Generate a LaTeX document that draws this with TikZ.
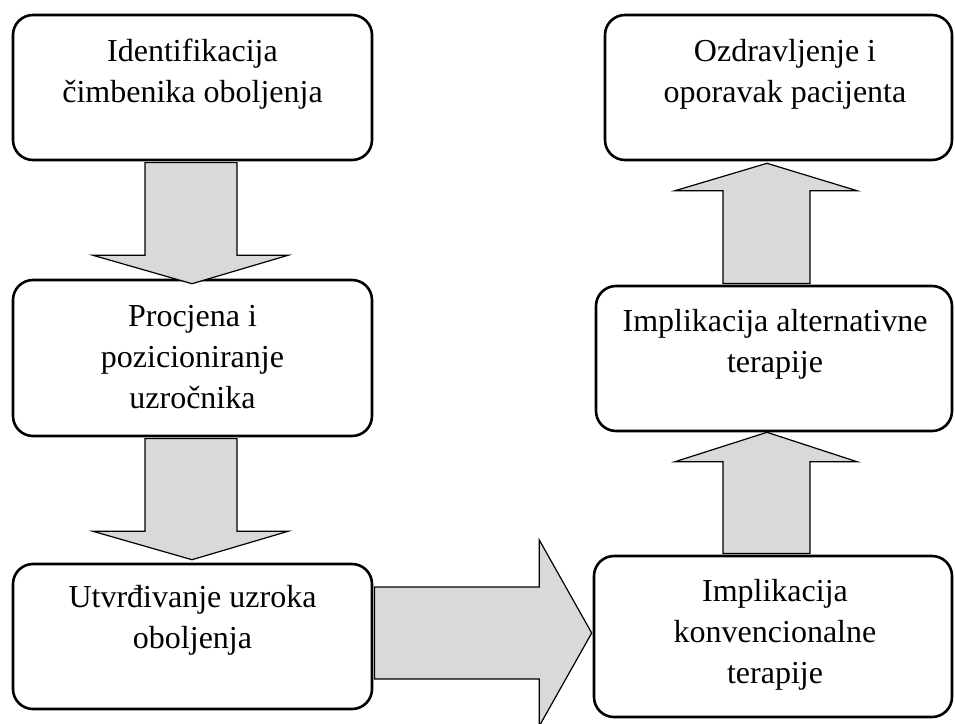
\documentclass[tikz,border=0pt]{standalone}
\usepackage{fontspec}
\setmainfont{Liberation Serif}
\usetikzlibrary{calc}
\definecolor{arrowgray}{HTML}{D9D9D9}
\begin{document}
\begin{tikzpicture}[x=1pt,y=-1pt,
  box/.style={draw=black, line width=2.6pt, rounded corners=20pt, inner sep=0pt},
  txt/.style={anchor=north, align=center, inner sep=0pt, font=\fontsize{32}{41}\selectfont},
  blockarrow/.style={draw=black, line width=1.2pt, fill=arrowgray, line join=miter}]
\useasboundingbox (0,0) rectangle (955,723);

% boxes
\node[box, minimum width=359pt, minimum height=145pt] (b1) at (192.5,87.5) {};
\node[box, minimum width=359pt, minimum height=156pt] (b2) at (192.5,358) {};
\node[box, minimum width=359pt, minimum height=145pt] (b3) at (192.5,636.5) {};
\node[box, minimum width=347pt, minimum height=145pt] (b4) at (778.5,87.5) {};
\node[box, minimum width=356pt, minimum height=145pt] (b5) at (774,358.5) {};
\node[box, minimum width=358pt, minimum height=161pt] (b6) at (773,636.5) {};

% texts
\node[txt] (t1) at ($(b1.north)+(0,19.3)$) {\strut Identifikacija\\čimbenika oboljenja};
\node[txt] (t2) at ($(b2.north)+(0,19.3)$) {\strut Procjena i\\pozicioniranje\\uzročnika};
\node[txt] (t3) at ($(b3.north)+(0,16.3)$) {\strut Utvrđivanje uzroka\\oboljenja};
\node[txt] (t4) at ($(b4.north)+(6.5,19.3)$) {\strut Ozdravljenje i\\oporavak pacijenta};
\node[txt] (t5) at ($(b5.north)+(1,18.3)$) {\strut Implikacija alternativne\\terapije};
\node[txt] (t6) at ($(b6.north)+(2,18.3)$) {\strut Implikacija\\konvencionalne\\terapije};

% block arrows
\draw[blockarrow] ($(b1.south)+(-47.5,1.3)$) -- ($(b1.south)+(-47.5,94)$) -- ($(b1.south)+(-99.5,94)$)
  -- ($(b2.north)+(-0.5,5)$) -- ($(b1.south)+(95.5,94)$) -- ($(b1.south)+(44.5,94)$)
  -- ($(b1.south)+(44.5,1.3)$) -- cycle;
\draw[blockarrow] ($(b2.south)+(-47.5,1.3)$) -- ($(b2.south)+(-47.5,94)$) -- ($(b2.south)+(-99.5,94)$)
  -- ($(b3.north)+(-0.5,-3)$) -- ($(b2.south)+(95.5,94)$) -- ($(b2.south)+(44.5,94)$)
  -- ($(b2.south)+(44.5,1.3)$) -- cycle;
\draw[blockarrow] ($(b3.east)+(1.3,-49.5)$) -- ($(b3.east)+(166,-49.5)$) -- ($(b3.east)+(166,-96.5)$)
  -- ($(b6.west)+(-1,-3.5)$) -- ($(b3.east)+(166,89.5)$) -- ($(b3.east)+(166,42.5)$)
  -- ($(b3.east)+(1.3,42.5)$) -- cycle;
\draw[blockarrow] ($(b5.north)+(-51,-1.3)$) -- ($(b5.north)+(-51,-94)$) -- ($(b5.north)+(-99,-94)$)
  -- ($(b4.south)+(-11.5,2)$) -- ($(b5.north)+(83,-94)$) -- ($(b5.north)+(36,-94)$)
  -- ($(b5.north)+(36,-1.3)$) -- cycle;
\draw[blockarrow] ($(b6.north)+(-50,-1.3)$) -- ($(b6.north)+(-50,-93)$) -- ($(b6.north)+(-98,-93)$)
  -- ($(b5.south)+(-7,0)$) -- ($(b6.north)+(84,-93)$) -- ($(b6.north)+(37,-93)$)
  -- ($(b6.north)+(37,-1.3)$) -- cycle;
\end{tikzpicture}
\end{document}
